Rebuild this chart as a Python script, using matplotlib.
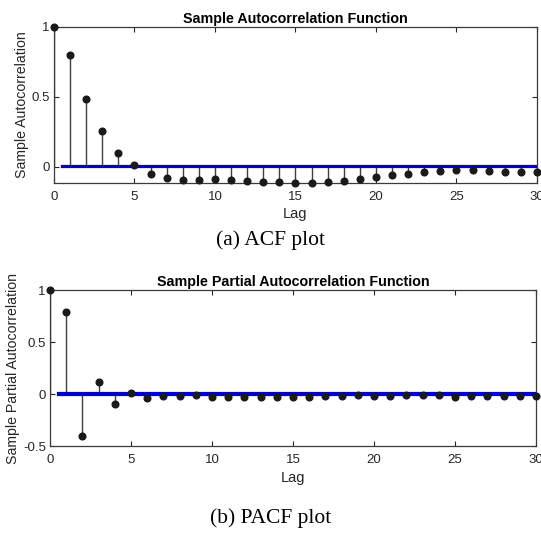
import numpy as np
import matplotlib.pyplot as plt

# data
lags = np.arange(0, 31)
acf_vals = [1.0, 0.80, 0.483, 0.255, 0.10, 0.012, -0.048, -0.079, -0.095, -0.095,
            -0.09, -0.095, -0.10, -0.107, -0.11, -0.112, -0.112, -0.107, -0.098, -0.086,
            -0.069, -0.055, -0.048, -0.036, -0.026, -0.021, -0.024, -0.029, -0.033, -0.04,
            -0.04]
pacf_vals = [1.0, 0.79, -0.405, 0.12, -0.093, 0.01, -0.038, -0.02, -0.022, -0.013,
             -0.026, -0.032, -0.026, -0.03, -0.03, -0.026, -0.029, -0.022, -0.022, -0.013,
             -0.02, -0.022, -0.01, -0.006, -0.01, -0.026, -0.022, -0.022, -0.022, -0.022,
             -0.02]
acf_bound = 0.003
pacf_bound = 0.005

titles = ['Sample Autocorrelation Function', 'Sample Partial Autocorrelation Function']
ylabels = ['Sample Autocorrelation', 'Sample Partial Autocorrelation']
captions = ['(a) ACF plot', '(b) PACF plot']

plt.rcParams['font.family'] = ['Liberation Sans', 'DejaVu Sans']
tick_col = '#262626'

fig = plt.figure(figsize=(5.41, 5.33), dpi=100)


def stem_panel(ax, vals, bound, ylim, yticks, yticklabels, title, ylabel):
    ax.vlines(lags, 0, vals, color='0.25', lw=1.0, zorder=2)
    ax.plot(lags, vals, 'o', color='#1a1a1a', ms=4.8, zorder=4, clip_on=False)
    ax.plot([0.5, 30], [bound, bound], color='#0000c8', lw=1.6, zorder=3)
    ax.plot([0.5, 30], [-bound, -bound], color='#0000c8', lw=1.6, zorder=3)
    ax.set_xlim(0, 30)
    ax.set_ylim(*ylim)
    ax.set_xticks(np.arange(0, 31, 5))
    ax.set_yticks(yticks)
    ax.set_yticklabels(yticklabels)
    ax.tick_params(direction='in', top=True, right=True, length=3.5, width=0.8,
                   labelsize=9.5, colors=tick_col, pad=3)
    ax.tick_params(axis='x', pad=6)
    for s in ax.spines.values():
        s.set_color('#3a3a3a')
        s.set_linewidth(0.9)
    ax.set_title(title, fontsize=10.3, fontweight='bold', pad=3, color='black')
    ax.set_xlabel('Lag', fontsize=10.5, color=tick_col, labelpad=3)
    ax.set_ylabel(ylabel, fontsize=10.2, color=tick_col, labelpad=2)


ax1 = fig.add_axes([0.0998, 0.6567, 0.8928, 0.2927])
stem_panel(ax1, acf_vals, acf_bound, (-0.115, 1), [0, 0.5, 1], ['0', '0.5', '1'],
           titles[0], ylabels[0])

ax2 = fig.add_axes([0.0924, 0.1632, 0.8984, 0.2927])
stem_panel(ax2, pacf_vals, pacf_bound, (-0.5, 1), [-0.5, 0, 0.5, 1],
           ['-0.5', '0', '0.5', '1'], titles[1], ylabels[1])

fig.text(0.5, 1 - 240 / 533, captions[0], ha='center', va='center',
         fontsize=15.5, family='Liberation Serif')
fig.text(0.5, 1 - 518 / 533, captions[1], ha='center', va='center',
         fontsize=15.5, family='Liberation Serif')

fig.savefig('out.png', dpi=100)
